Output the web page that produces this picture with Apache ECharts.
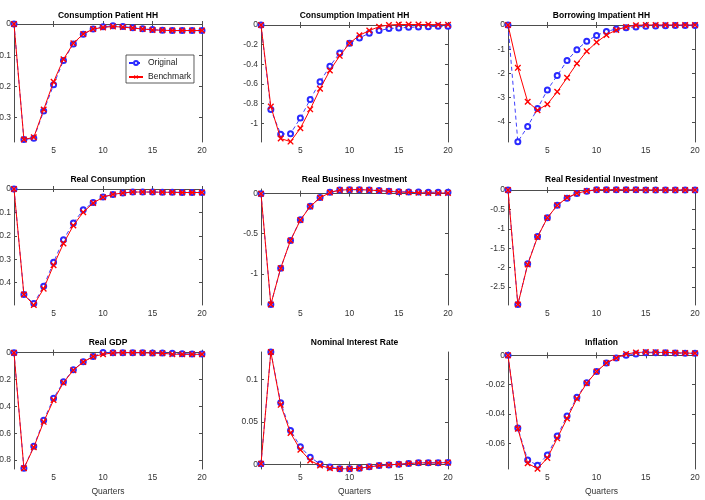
<!DOCTYPE html>
<html>
<head>
<meta charset="utf-8">
<script src="https://cdn.jsdelivr.net/npm/echarts@6/dist/echarts.min.js"></script>
<style>
  html, body { margin: 0; padding: 0; background: #fff; }
  #chart { width: 705px; height: 500px; }
</style>
</head>
<body>
<div id="chart"></div>
<script>
// quarters 1..20
const quarters = ['1','2','3','4','5','6','7','8','9','10','11','12','13','14','15','16','17','18','19','20'];
const titles = ['Consumption Patient HH', 'Consumption Impatient HH', 'Borrowing Impatient HH',
  'Real Consumption', 'Real Business Investment', 'Real Residential Investment',
  'Real GDP', 'Nominal Interest Rate', 'Inflation'];

const consPatientOrig = [0, -0.370, -0.366, -0.279, -0.195, -0.117, -0.064, -0.033, -0.016, -0.009, -0.006, -0.008, -0.012, -0.015, -0.018, -0.020, -0.021, -0.021, -0.021, -0.021];
const consPatientBench = [0, -0.370, -0.363, -0.274, -0.185, -0.113, -0.062, -0.032, -0.016, -0.011, -0.008, -0.010, -0.013, -0.016, -0.019, -0.020, -0.021, -0.021, -0.021, -0.021];

const consImpOrig = [0, -0.86, -1.11, -1.105, -0.946, -0.757, -0.578, -0.419, -0.284, -0.186, -0.132, -0.084, -0.057, -0.037, -0.030, -0.024, -0.020, -0.017, -0.014, -0.013];
const consImpBench = [0, -0.83, -1.155, -1.186, -1.05, -0.858, -0.649, -0.463, -0.314, -0.186, -0.105, -0.057, -0.017, 0.000, 0.005, 0.005, 0.005, 0.005, 0.003, 0.003];

const borrowOrig = [0, -4.82, -4.19, -3.45, -2.68, -2.09, -1.47, -1.02, -0.67, -0.43, -0.27, -0.165, -0.11, -0.08, -0.055, -0.04, -0.03, -0.025, -0.02, -0.02];
const borrowBench = [0, -1.77, -3.17, -3.52, -3.27, -2.76, -2.18, -1.59, -1.085, -0.714, -0.41, -0.21, -0.08, -0.01, 0.0, 0.0, 0.0, 0.0, 0.0, 0.0];

const realConsOrig = [0, -0.451, -0.490, -0.416, -0.313, -0.217, -0.145, -0.089, -0.058, -0.034, -0.023, -0.017, -0.013, -0.013, -0.013, -0.014, -0.014, -0.015, -0.015, -0.015];
const realConsBench = [0, -0.451, -0.496, -0.426, -0.326, -0.233, -0.156, -0.099, -0.060, -0.035, -0.023, -0.017, -0.013, -0.013, -0.013, -0.014, -0.014, -0.015, -0.015, -0.015];

const bizInvOrig = [0, -1.383, -0.93, -0.584, -0.325, -0.156, -0.049, 0.016, 0.045, 0.050, 0.050, 0.045, 0.038, 0.031, 0.025, 0.022, 0.020, 0.018, 0.017, 0.017];
const bizInvBench = [0, -1.383, -0.93, -0.584, -0.330, -0.160, -0.052, 0.014, 0.044, 0.050, 0.050, 0.045, 0.037, 0.029, 0.020, 0.016, 0.012, 0.008, 0.008, 0.008];

const resInvOrig = [0, -2.946, -1.90, -1.20, -0.716, -0.396, -0.21, -0.09, -0.03, 0.005, 0.006, 0.005, 0.004, 0.003, 0.002, 0.001, 0.001, 0.001, 0.001, 0.001];
const resInvBench = [0, -2.946, -1.92, -1.21, -0.716, -0.396, -0.20, -0.084, -0.025, 0.008, 0.006, 0.005, 0.004, 0.003, 0.002, 0.001, 0.001, 0.001, 0.001, 0.001];

const gdpOrig = [0, -0.861, -0.697, -0.504, -0.339, -0.216, -0.128, -0.068, -0.029, 0.002, 0.0, 0.0, 0.0, 0.0, -0.002, -0.002, -0.005, -0.008, -0.010, -0.010];
const gdpBench = [0, -0.861, -0.704, -0.515, -0.353, -0.223, -0.130, -0.069, -0.029, -0.012, -0.002, 0.0, 0.0, 0.0, -0.004, -0.005, -0.011, -0.012, -0.012, -0.012];

const rateOrig = [0.001, 0.132, 0.0725, 0.040, 0.021, 0.0085, 0.0008, -0.003, -0.005, -0.005, -0.0043, -0.0027, -0.0012, -0.0004, 0.0004, 0.0012, 0.002, 0.002, 0.002, 0.0023];
const rateBench = [0.001, 0.132, 0.070, 0.037, 0.0174, 0.0047, -0.0012, -0.0043, -0.005, -0.005, -0.0043, -0.0027, -0.0012, -0.0004, 0.0004, 0.0012, 0.002, 0.002, 0.002, 0.0023];

const inflOrig = [0, -0.0495, -0.0714, -0.075, -0.068, -0.055, -0.0414, -0.0286, -0.0186, -0.011, -0.0052, -0.0018, 0, 0.0009, 0.0018, 0.0018, 0.0018, 0.0016, 0.0014, 0.0014];
const inflBench = [0, -0.050, -0.0736, -0.0773, -0.070, -0.0566, -0.043, -0.0295, -0.019, -0.011, -0.0052, -0.0018, 0.0009, 0.002, 0.0023, 0.0022, 0.002, 0.0018, 0.0016, 0.0014];

const origSeries = [consPatientOrig, consImpOrig, borrowOrig, realConsOrig, bizInvOrig, resInvOrig, gdpOrig, rateOrig, inflOrig];
const benchSeries = [consPatientBench, consImpBench, borrowBench, realConsBench, bizInvBench, resInvBench, gdpBench, rateBench, inflBench];

// y axis limits (tight, as in the matlab figure)
const yMin = [-0.378, -1.19, -4.83, -0.496, -1.39, -2.96, -0.866, -0.0052, -0.0775];
const yMax = [0, 0.01, 0.04, 0, 0.058, 0.025, 0.005, 0.132, 0.0023];
// y tick labels per panel
const yTicks = [
  [0, -0.1, -0.2, -0.3],
  [0, -0.2, -0.4, -0.6, -0.8, -1],
  [0, -1, -2, -3, -4],
  [0, -0.1, -0.2, -0.3, -0.4],
  [0, -0.5, -1],
  [0, -0.5, -1, -1.5, -2, -2.5],
  [0, -0.2, -0.4, -0.6, -0.8],
  [0, 0.05, 0.1],
  [0, -0.02, -0.04, -0.06]
];

const chart = echarts.init(document.getElementById('chart'), null, { renderer: 'canvas' });

const colLeft = [14, 261, 508];
const colWidth = [188, 187, 187];
const rowTop = [24, 189, 352];
const rowHeight = [118, 116, 117];
const titleTop = [11, 175, 338];

const font = "'Liberation Sans', Arial, sans-serif";
const axisColor = '#4d4d4d';
// matlab-like 'x' marker, filled polygon
const xMark = 'path://M0,1.5L1.5,0L5,3.5L8.5,0L10,1.5L6.5,5L10,8.5L8.5,10L5,6.5L1.5,10L0,8.5L3.5,5Z';

const tickEvery5 = (idx) => (idx + 1) % 5 === 0;

const grids = [], xAxes = [], yAxes = [], series = [], titleList = [];
for (let i = 0; i < 9; i++) {
  const r = Math.floor(i / 3), c = i % 3;
  grids.push({
    left: colLeft[c], top: rowTop[r], width: colWidth[c], height: rowHeight[r],
    containLabel: false, outerBoundsMode: 'none'
  });
  titleList.push({
    text: titles[i],
    left: colLeft[c] + colWidth[c] / 2,
    top: titleTop[r],
    textAlign: 'center',
    padding: 0,
    textStyle: { fontFamily: font, fontSize: 8.5, fontWeight: 'bold', color: '#000' }
  });
  // bottom + top x axes
  xAxes.push({
    type: 'category', gridIndex: i, data: quarters, boundaryGap: false, position: 'bottom',
    axisLine: { lineStyle: { color: axisColor, width: 1 } },
    axisTick: { inside: true, length: 3, interval: tickEvery5, lineStyle: { color: axisColor } },
    axisLabel: { interval: tickEvery5, margin: 4, fontFamily: font, fontSize: 8.5, color: '#333' },
    splitLine: { show: false },
    name: r === 2 ? 'Quarters' : '', nameLocation: 'middle', nameGap: 18,
    nameTextStyle: { fontFamily: font, fontSize: 8.5, color: '#333' }
  });
  xAxes.push({
    type: 'category', gridIndex: i, data: quarters, boundaryGap: false, position: 'top',
    axisLine: { lineStyle: { color: axisColor, width: 1 } },
    axisTick: { inside: true, length: 3, interval: tickEvery5, lineStyle: { color: axisColor } },
    axisLabel: { show: false }, splitLine: { show: false }
  });
  const yCommon = {
    type: 'value', gridIndex: i, min: yMin[i], max: yMax[i],
    axisLine: { show: true, lineStyle: { color: axisColor, width: 1 } },
    splitLine: { show: false }
  };
  yAxes.push(Object.assign({}, yCommon, {
    position: 'left',
    axisTick: { show: true, inside: true, length: 3, customValues: yTicks[i], lineStyle: { color: axisColor } },
    axisLabel: { margin: 3, fontFamily: font, fontSize: 8.5, color: '#333', customValues: yTicks[i] }
  }));
  yAxes.push(Object.assign({}, yCommon, {
    position: 'right',
    axisTick: { show: true, inside: true, length: 3, customValues: yTicks[i], lineStyle: { color: axisColor } },
    axisLabel: { show: false, customValues: yTicks[i] }
  }));
  series.push({
    name: 'Original', type: 'line', xAxisIndex: 2 * i, yAxisIndex: 2 * i,
    data: origSeries[i], symbol: 'emptyCircle', symbolSize: 5, showAllSymbol: true,
    lineStyle: { color: '#2a2aff', width: 0.9, type: [4, 3] },
    itemStyle: { color: '#2a2aff', borderColor: '#2a2aff', borderWidth: 0.7 },
    animation: false, z: 2
  });
  series.push({
    name: 'Benchmark', type: 'line', xAxisIndex: 2 * i, yAxisIndex: 2 * i,
    data: benchSeries[i], symbol: xMark, symbolSize: 6.5, showAllSymbol: true,
    lineStyle: { color: '#ff0000', width: 1 },
    itemStyle: { color: '#ff0000' },
    animation: false, z: 3
  });
}

const option = {
  backgroundColor: '#fff',
  animation: false,
  title: titleList,
  legend: {
    data: ['Original', 'Benchmark'],
    orient: 'vertical', left: 126, top: 55,
    backgroundColor: '#fff', borderColor: '#333', borderWidth: 0.8,
    padding: [3, 3, 1, 2], itemGap: 4, itemWidth: 14, itemHeight: 5,
    textStyle: { fontFamily: font, fontSize: 8.5, lineHeight: 10, color: '#222' }
  },
  grid: grids,
  xAxis: xAxes,
  yAxis: yAxes,
  series: series
};
chart.setOption(option);
</script>
</body>
</html>
